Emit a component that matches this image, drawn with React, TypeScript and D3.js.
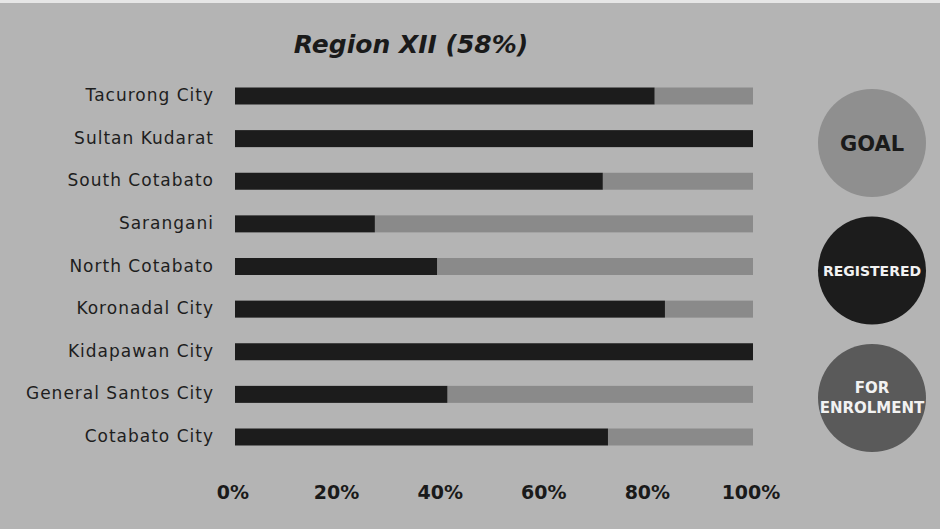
import React from "react";
import * as d3 from "d3";

const categories = [
  "Tacurong City",
  "Sultan Kudarat",
  "South Cotabato",
  "Sarangani",
  "North Cotabato",
  "Koronadal City",
  "Kidapawan City",
  "General Santos City",
  "Cotabato City",
];
const registered = [81, 100, 71, 27, 39, 83, 100, 41, 72];
const goal = [100, 100, 100, 100, 100, 100, 100, 100, 100];
const ticks = [0, 20, 40, 60, 80, 100];
const legendItems = [
  { key: "GOAL", lines: ["GOAL"] },
  { key: "REGISTERED", lines: ["REGISTERED"] },
  { key: "FOR ENROLMENT", lines: ["FOR", "ENROLMENT"] },
];

const W = 940;
const H = 529;
const FONT = "'DejaVu Sans', 'Liberation Sans', sans-serif";

export default function App() {
  const x = d3.scaleLinear().domain([0, 100]).range([235, 753]);
  const y = d3.scalePoint<string>().domain(categories).range([96, 437]);
  const barH = 17;
  const legendY = d3.scalePoint<string>().domain(legendItems.map((d) => d.key)).range([143, 398]);
  const legendFill: Record<string, string> = {
    GOAL: "#8f8f8f",
    REGISTERED: "#1c1c1c",
    "FOR ENROLMENT": "#5a5a5a",
  };
  const legendText: Record<string, string> = {
    GOAL: "#1a1a1a",
    REGISTERED: "#f2f2f2",
    "FOR ENROLMENT": "#f2f2f2",
  };
  const legendSize: Record<string, number> = {
    GOAL: 21,
    REGISTERED: 14,
    "FOR ENROLMENT": 15,
  };

  return (
    <svg
      width={W}
      height={H}
      style={{ position: "absolute", left: 0, top: 0 }}
      fontFamily={FONT}
    >
      <rect x={0} y={0} width={W} height={H} fill="#b4b4b4" />
      <rect x={0} y={0} width={W} height={3} fill="#e6e6e6" />
      <text
        x={411}
        y={53}
        textAnchor="middle"
        fontSize={25}
        fontWeight="bold"
        fontStyle="italic"
        fill="#1a1a1a"
      >
        Region XII (58%)
      </text>
      {categories.map((c, i) => {
        const cy = y(c) as number;
        return (
          <g key={c}>
            <text
              x={214}
              y={cy + 5}
              textAnchor="end"
              fontSize={17}
              letterSpacing={1}
              fill="#1e1e1e"
            >
              {c}
            </text>
            <rect
              x={x(registered[i])}
              y={cy - barH / 2}
              width={Math.max(0, x(goal[i]) - x(registered[i]))}
              height={barH}
              fill="#8a8a8a"
            />
            <rect
              x={x(0)}
              y={cy - barH / 2}
              width={x(registered[i]) - x(0)}
              height={barH}
              fill="#1c1c1c"
            />
          </g>
        );
      })}
      {ticks.map((t) => (
        <text
          key={t}
          x={x(t) - 2}
          y={499}
          textAnchor="middle"
          fontSize={19}
          fontWeight="bold"
          fill="#1a1a1a"
        >
          {t}%
        </text>
      ))}
      {legendItems.map((d) => {
        const cy = legendY(d.key) as number;
        const n = d.lines.length;
        return (
          <g key={d.key}>
            <circle cx={872} cy={cy} r={54} fill={legendFill[d.key]} />
            {d.lines.map((ln, j) => (
              <text
                key={ln}
                x={872}
                y={cy + (j - (n - 1) / 2) * 20}
                dy="0.36em"
                textAnchor="middle"
                fontSize={legendSize[d.key]}
                fontWeight="bold"
                fill={legendText[d.key]}
              >
                {ln}
              </text>
            ))}
          </g>
        );
      })}
    </svg>
  );
}
